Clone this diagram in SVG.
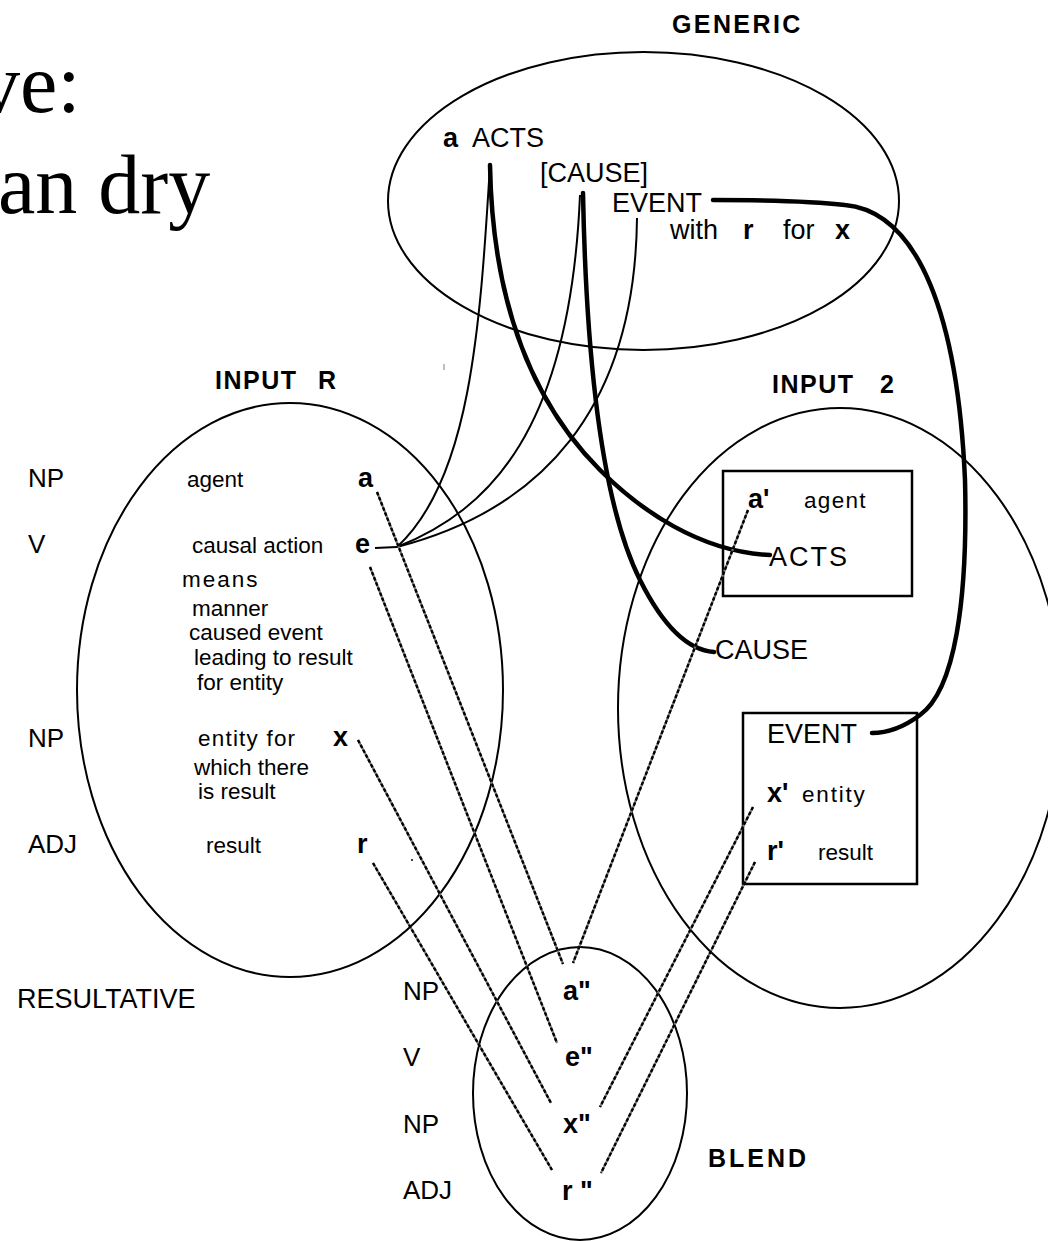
<svg xmlns="http://www.w3.org/2000/svg" width="1048" height="1241" viewBox="0 0 1048 1241">
<style>
text{font-family:"Liberation Sans",Arial,sans-serif;fill:#000}
.t{font-size:27px}
.s{font-size:22.5px}
.lb{font-size:26px}
.b{font-weight:bold;font-size:27px}
.h{font-weight:bold;font-size:25px;letter-spacing:2.4px}
.ttl{font-family:"Liberation Serif","Times New Roman",serif;font-size:84px}
.sp{fill:none;stroke:#000;stroke-width:2}
.box{fill:none;stroke:#000;stroke-width:2.5}
.thin{fill:none;stroke:#000;stroke-width:2}
.thick{fill:none;stroke:#000;stroke-width:4.5;stroke-linecap:round}
.dg{fill:none;stroke:#777;stroke-width:2.2}
.dk{fill:none;stroke:#000;stroke-width:2.4;stroke-dasharray:3.5 2}
</style>
<rect x="0" y="0" width="1048" height="1241" fill="#fff"/>

<g id="title">
<text class="ttl" x="-22" y="112">ve:</text>
<text class="ttl" x="-2" y="213">an dry</text>
</g>

<g id="generic">
<text class="h" x="672" y="33">GENERIC</text>
<ellipse class="sp" cx="643.5" cy="201" rx="255.5" ry="149"/>
<text class="b" x="443" y="147">a</text>
<text class="t" x="472" y="147">ACTS</text>
<text class="t" x="540" y="182">[CAUSE]</text>
<text class="t" x="612" y="212">EVENT</text>
<text class="t" x="670" y="239">with</text>
<text class="b" x="743" y="239">r</text>
<text class="t" x="783" y="239">for</text>
<text class="b" x="835" y="239">x</text>
</g>

<g id="input-r">
<text class="h" x="215" y="389" style="letter-spacing:1.5px">INPUT</text>
<text class="h" x="318" y="389">R</text>
<ellipse class="sp" cx="290" cy="690" rx="213" ry="287"/>
<text class="s" x="187" y="487">agent</text>
<text class="b" x="358" y="487">a</text>
<text class="s" x="192" y="553">causal action</text>
<text class="b" x="355" y="553">e</text>
<text class="s" x="182" y="587" style="letter-spacing:2px">means</text>
<text class="s" x="192" y="616">manner</text>
<text class="s" x="189" y="640">caused event</text>
<text class="s" x="194" y="665">leading to result</text>
<text class="s" x="197" y="690">for entity</text>
<text class="s" x="198" y="746" style="letter-spacing:1.2px">entity for</text>
<text class="b" x="333" y="746">x</text>
<text class="s" x="194" y="775">which there</text>
<text class="s" x="198" y="799">is result</text>
<text class="s" x="206" y="853">result</text>
<text class="b" x="357" y="853">r</text>
</g>

<g id="labels-left">
<text class="lb" x="28" y="487">NP</text>
<text class="lb" x="28" y="553">V</text>
<text class="lb" x="28" y="747">NP</text>
<text class="lb" x="28" y="853">ADJ</text>
<text class="t" x="17" y="1008">RESULTATIVE</text>
</g>

<g id="input-2">
<text class="h" x="772" y="393" style="letter-spacing:1.5px">INPUT</text>
<text class="h" x="880" y="393">2</text>
<ellipse class="sp" cx="840" cy="708" rx="222" ry="300"/>
<rect class="box" x="723" y="471" width="189" height="125"/>
<text class="b" x="748" y="508">a'</text>
<text class="s" x="804" y="508" style="letter-spacing:1.3px">agent</text>
<text class="t" x="769" y="566" style="letter-spacing:2px">ACTS</text>
<text class="t" x="715" y="659">CAUSE</text>
<rect class="box" x="743" y="713" width="174" height="171"/>
<text class="t" x="767" y="743">EVENT</text>
<text class="b" x="767" y="802">x'</text>
<text class="s" x="802" y="802" style="letter-spacing:1.8px">entity</text>
<text class="b" x="767" y="860">r'</text>
<text class="s" x="818" y="860">result</text>
</g>

<g id="blend">
<ellipse class="sp" cx="580" cy="1093.5" rx="107" ry="146.5"/>
<text class="lb" x="403" y="1000">NP</text>
<text class="lb" x="403" y="1066">V</text>
<text class="lb" x="403" y="1133">NP</text>
<text class="lb" x="403" y="1199">ADJ</text>
<text class="b" x="563" y="1000">a"</text>
<text class="b" x="565" y="1066">e"</text>
<text class="b" x="563" y="1133">x"</text>
<text class="b" x="562" y="1200">r "</text>
<text class="h" x="708" y="1167" style="letter-spacing:3px">BLEND</text>
</g>

<g id="connectors">
<path class="thin" d="M375,548 L397,547"/>
<path class="thin" d="M397,547 C470,480 480,330 490,165"/>
<path class="thin" d="M397,547 C490,510 570,430 580,195"/>
<path class="thin" d="M397,547 C540,510 635,410 637,218"/>
<path class="thick" d="M490,165 C492,280 520,390 600,470 C640,510 700,552 770,555"/>
<path class="thick" d="M583,193 C586,350 600,500 640,580 C660,620 685,650 714,652"/>
<path class="thick" d="M713,200 C780,200 820,202 845,205 C920,212 958,320 965,480 C968,600 955,690 920,715 C900,730 885,733 872,733"/>
<g id="mappings">
<path class="dg" d="M377,492 L563,964 M370,567 L557,1043 M358,740 L551,1103 M373,863 L552,1170 M748,510 L573,963 M753,807 L600,1107 M755,862 L601,1173"/>
<path class="dk" d="M377,492 L563,964 M370,567 L557,1043 M358,740 L551,1103 M373,863 L552,1170 M748,510 L573,963 M753,807 L600,1107 M755,862 L601,1173"/>
</g>
</g>
<path d="M444,364 L444,370" stroke="#aaa" stroke-width="1.5"/>
<circle cx="412" cy="860" r="1" fill="#000"/>
</svg>
